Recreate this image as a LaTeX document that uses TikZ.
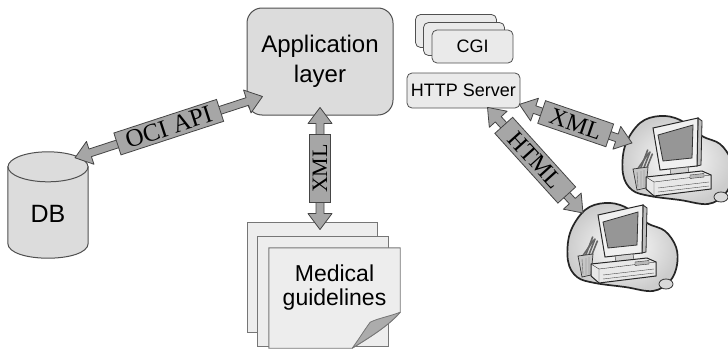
\documentclass[tikz,border=0pt]{standalone}
\usepackage{fontspec}
\setmainfont{Liberation Sans}
\newfontfamily\tagfont{Liberation Serif}
\usetikzlibrary{calc}

\definecolor{boxfill}{HTML}{DCDCDC}
\definecolor{boxedge}{HTML}{505050}
\definecolor{pagefill}{HTML}{EDEDED}
\definecolor{pageedge}{HTML}{767676}
\definecolor{arrowfill}{HTML}{A6A6A6}
\definecolor{arrowedge}{HTML}{454545}
\definecolor{screengray}{HTML}{969696}

\tikzset{
  % broad double-headed arrow between two points
  fat/.style={to path={
    let \p1=(\tikztostart), \p2=(\tikztotarget),
        \n1={atan2(\y2-\y1,\x2-\x1)}, \n2={veclen(\x2-\x1,\y2-\y1)} in
    {[shift={(\p1)}, rotate=\n1]
      (0pt,0pt) -- (16pt,12pt) -- (16pt,4pt) -- (\n2-16pt,4pt) -- (\n2-16pt,12pt)
      -- (\n2,0pt) -- (\n2-16pt,-12pt) -- (\n2-16pt,-4pt) -- (16pt,-4pt)
      -- (16pt,-12pt) -- cycle}
  }},
  fatarrow/.style={draw=arrowedge, fill=arrowfill, line width=0.8pt, line join=round},
  tagbox/.style={draw=arrowedge, fill=arrowfill, line width=0.8pt, inner sep=0pt},
  tagfnt/.style={font=\tagfont\fontsize{#1}{#1}\selectfont},
  appbox/.style={draw=boxedge, fill=boxfill, line width=1pt, rounded corners=15pt,
    align=center, font=\fontsize{24}{30}\selectfont},
  smallbox/.style={draw=boxedge, fill=boxfill!60!white, line width=0.8pt, rounded corners=5pt,
    font=\fontsize{18}{20}\selectfont, inner sep=0pt},
  page/.style={draw=pageedge, fill=pagefill, line width=0.9pt},
  cyl/.style={draw=boxedge, fill=boxfill, line width=1pt},
  computer/.pic={
    % cloud behind the workstation
    \draw[line width=1.7pt, draw=black!85, inner color=white, outer color=gray!40]
      plot[smooth cycle, tension=0.6] coordinates {(15,38) (30,15) (50,8) (70,12) (92,28)
        (110,36) (121,52) (122,70) (115,86) (98,96) (70,92) (40,88) (22,82) (13,66)};
    % pencil cup
    \foreach \a/\b in {26/45, 29/42, 32/44, 35/46}
      \draw[line width=1.6pt, black!60, line cap=round] (\a+1,62) -- (\b/1.5+\a/3,\b);
    \draw[black!80, fill=gray!45, line width=0.7pt] (23,61) -- (38,59) -- (36,80) -- (27,82) -- cycle;
    \draw[black!60] (27,64) -- (28,79) (31,63) -- (31,80) (34,62) -- (34,79);
    % monitor
    \draw[black!85, fill=gray!50, line width=0.8pt] (88,10) -- (92,13) -- (91,57) -- (87,58) -- cycle;
    \draw[black!85, fill=gray!12, line width=1pt] (43,20) -- (88,10) -- (87,58) -- (50,62) -- cycle;
    \draw[black!80, fill=screengray, line width=0.8pt] (48,27) -- (83,17) -- (82,50) -- (53,53) -- cycle;
    \draw[black!80, fill=gray!35] (60,61) -- (78,59) -- (79,65) -- (61,67) -- cycle;
    % system unit and keyboard
    \draw[black!85, fill=gray!18, line width=1pt]
      (36,69) -- (92,63) -- (101,67) -- (101,81) -- (44,88) -- (36,81) -- cycle;
    \draw[black!80] (36,69) -- (44,74) -- (101,67) (44,74) -- (44,88);
    \draw[black!70] (48,80) -- (99,74) (48,84) -- (99,78);
    \draw[black!80, fill=gray!55] (80,67) -- (94,65.5) -- (94,69) -- (80,70.5) -- cycle;
    % mouse
    \draw[black!80, fill=gray!30, line width=0.8pt] (111,89) ellipse [x radius=7, y radius=5];
  }
}

\begin{document}
\begin{tikzpicture}[x=1pt, y=-1pt]
\useasboundingbox (0,0) rectangle (728,348);
\fill[white] (0,0) rectangle (728,348);

% ---- application layer ----
\node[appbox, minimum width=146, minimum height=107] (app) at (320,61.5) {Application\\layer};

% ---- database cylinder ----
\node[minimum width=80, minimum height=76, inner sep=0pt] (db) at (48,205) {};
\draw[cyl] (db.north west) -- (db.south west) .. controls +(0,20) and +(0,20) .. (db.south east)
  -- (db.north east) -- cycle;
\draw[cyl] (db.north) ellipse [x radius=40, y radius=15];
\node[font=\fontsize{25}{25}\selectfont] (dbtext) at ($(db.center)+(0,9)$) {DB};

% ---- stacked guideline pages ----
\node[page, minimum width=130, minimum height=110] (page1) at (312,277) {};
\node[page, minimum width=131, minimum height=110] (page2) at (322.5,291) {};
\node[minimum width=131, minimum height=100, inner sep=0pt] (med) at (334.5,298) {};
\draw[page] (med.north west) -- (med.north east) -- ($(med.south east)+(0,-36)$)
  .. controls ($(med.south east)+(-12,-22)$) and ($(med.south east)+(-32,-10)$) .. ($(med.south east)+(-48,0)$)
  -- (med.south west) -- cycle;
\draw[draw=pageedge, fill=gray!65, line width=0.8pt, line join=round]
  ($(med.south east)+(0,-36)$) .. controls ($(med.south east)+(-10,-32)$) and ($(med.south east)+(-22,-30)$) ..
  ($(med.south east)+(-30,-26)$) .. controls ($(med.south east)+(-36,-18)$) and ($(med.south east)+(-42,-8)$) ..
  ($(med.south east)+(-48,0)$) .. controls ($(med.south east)+(-32,-10)$) and ($(med.south east)+(-12,-22)$) ..
  cycle;
\node[align=center, font=\fontsize{23}{24}\selectfont] (medtext) at ($(med.center)+(0,-10)$) {Medical\\guidelines};

% ---- web server side ----
\node[smallbox, minimum width=81, minimum height=33] (cgi3) at (456,31) {};
\node[smallbox, minimum width=81, minimum height=33] (cgi2) at (464,39) {};
\node[smallbox, minimum width=81, minimum height=33] (cgi) at (472.5,46.5) {CGI};
\node[smallbox, minimum width=113, minimum height=35] (http) at (463.5,90.5) {HTTP Server};

% ---- client workstations ----
\node[minimum width=125, minimum height=100, inner sep=0pt, anchor=north west] (pc1) at (610,108) {};
\node[minimum width=125, minimum height=100, inner sep=0pt, anchor=north west] (pc2) at (555,195) {};
\pic at (pc1.north west) {computer};
\pic at (pc2.north west) {computer};

% ---- arrow end points ----
\coordinate (ociA) at ($(db.north)+(27,-9)$);
\coordinate (ociB) at ($(app.south west)+(16,-19)$);
\coordinate (xmlA) at ($(app.south)+(0,-8)$);
\coordinate (xmlB) at ($(app.south |- page1.north)+(0,8)$);
\coordinate (webA) at ($(http.south east)+(-1,-4)$);
\coordinate (webB) at ($(pc1.north west)+(22,35)$);
\coordinate (htmA) at ($(http.south)+(24,-1)$);
\coordinate (htmB) at ($(pc2.north west)+(28,18)$);

% ---- connectors ----
\draw[fatarrow] (ociA) to[fat] (ociB);
\draw[fatarrow] (xmlB) to[fat] (xmlA);
\draw[fatarrow] (webA) to[fat] (webB);
\draw[fatarrow] (htmA) to[fat] (htmB);

% ---- connector labels, turned along their arrows ----
\path let \p1=(ociA), \p2=(ociB), \n1={atan2(\y2-\y1,\x2-\x1)} in
  node[tagbox, tagfnt=25, minimum width=108, minimum height=23, rotate=\n1] (ocitag)
  at ($(\p1)!0.5!(\p2)$) {OCI API};
\path let \p1=(xmlB), \p2=(xmlA), \n1={atan2(\y2-\y1,\x2-\x1)} in
  node[tagbox, tagfnt=22, minimum width=68, minimum height=21, rotate=\n1] (xmltag)
  at ($(\p1)!0.5!(\p2)$) {XML};
\path let \p1=(webA), \p2=(webB), \n1={atan2(\y2-\y1,\x2-\x1)} in
  node[tagbox, tagfnt=24, minimum width=72, minimum height=24, rotate=\n1] (webtag)
  at ($(\p1)!0.5!(\p2)$) {XML};
\path let \p1=(htmA), \p2=(htmB), \n1={atan2(\y2-\y1,\x2-\x1)} in
  node[tagbox, tagfnt=24, minimum width=94, minimum height=24, rotate=\n1] (htmtag)
  at ($(\p1)!0.5!(\p2)$) {HTML};
\end{tikzpicture}
\end{document}
